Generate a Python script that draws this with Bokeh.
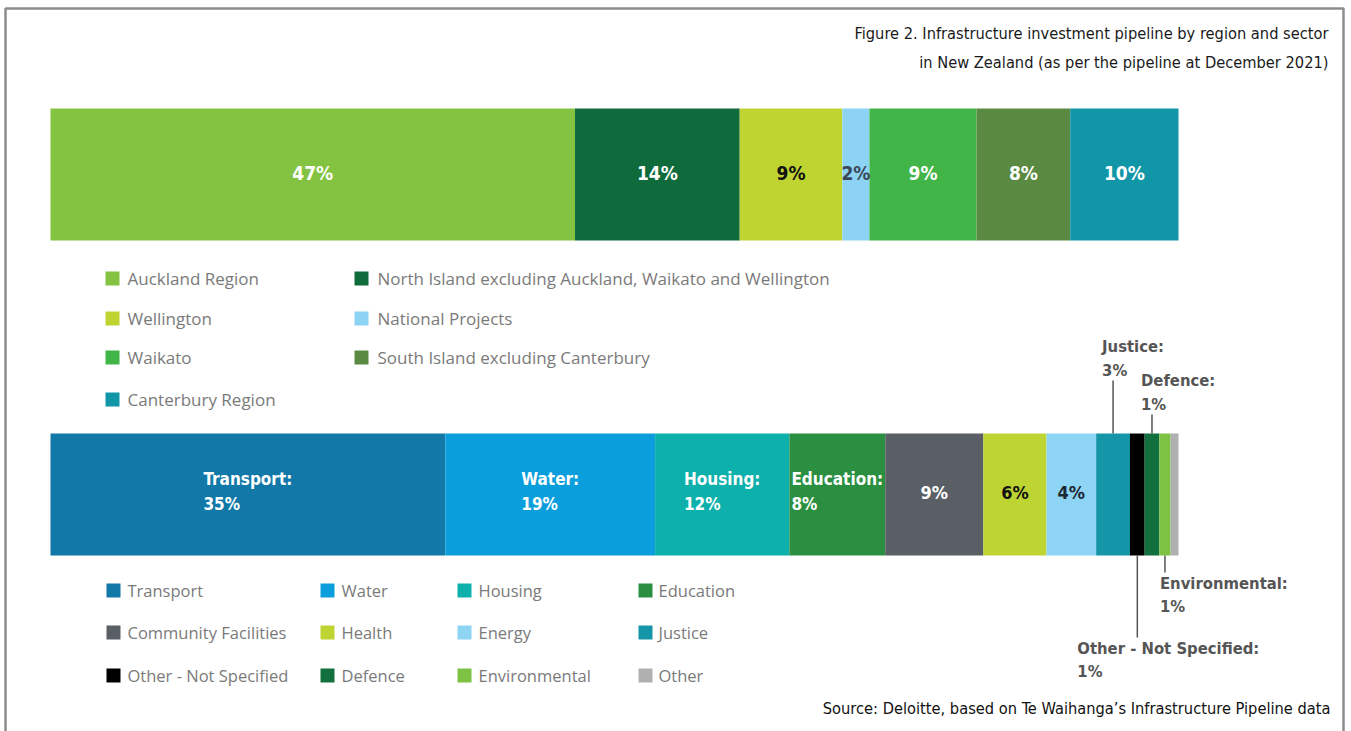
from bokeh.plotting import figure
from bokeh.models import Range1d, ColumnDataSource
from bokeh.core.properties import value
from bokeh.embed import file_html
from bokeh.resources import INLINE
import numpy as np

# ---------------- data ----------------
title_lines = ["Figure 2. Infrastructure investment pipeline by region and sector",
               "in New Zealand (as per the pipeline at December 2021)"]
source_text = "Source: Deloitte, based on Te Waihanga\u2019s Infrastructure Pipeline data"

regions = ["Auckland Region",
           "North Island excluding Auckland, Waikato and Wellington",
           "Wellington", "National Projects", "Waikato",
           "South Island excluding Canterbury", "Canterbury Region"]
region_share = [46.5, 14.6, 9.1, 2.4, 9.5, 8.3, 9.6]      # bar widths
region_pct = [47, 14, 9, 2, 9, 8, 10]                      # printed labels
region_colors = ["#84c341", "#0f6b3c", "#bfd431", "#8dd3f4",
                 "#42b549", "#5a8a42", "#1196a8"]
region_label_colors = ["#ffffff", "#ffffff", "#111111", "#3b4858",
                       "#ffffff", "#ffffff", "#ffffff"]

sectors = ["Transport", "Water", "Housing", "Education", "Community Facilities",
           "Health", "Energy", "Justice", "Other - Not Specified", "Defence",
           "Environmental", "Other"]
sector_share = [35.0, 18.6, 11.9, 8.5, 8.7, 5.6, 4.4, 3.0, 1.3, 1.3, 1.0, 0.7]
sector_pct = [35, 19, 12, 8, 9, 6, 4, 3, 1, 1, 1, None]
sector_colors = ["#1278a8", "#0a9edc", "#0db0aa", "#2a8f40", "#5a5f66",
                 "#bdd433", "#8ed4f4", "#1496a8", "#000000", "#12703f",
                 "#7dc242", "#b0b0b0"]
# how each sector is labelled: named inside, value inside, above, below, none
sector_label_mode = ["named", "named", "named", "named", "value", "value", "value",
                     "above", "below", "above", "below", "none"]
sector_label_colors = ["#ffffff", "#ffffff", "#ffffff", "#ffffff", "#ffffff",
                       "#111111", "#1c2833", "#555555", "#555555", "#555555",
                       "#555555", "#555555"]

# ---------------- layout ----------------
W, H = 1351, 731
BAR_L, BAR_R = 50, 1178
px_per_pct = (BAR_R - BAR_L) / 100.0
COND = "DejaVu Sans Condensed"
LEG = "Open Sans"

p = figure(width=W, height=H, x_range=Range1d(0, W), y_range=Range1d(H, 0),
           x_axis_type=None, y_axis_type=None, toolbar_location=None,
           output_backend="svg", min_border=0, outline_line_color=None,
           background_fill_color="white", border_fill_color="white")
p.extra_x_ranges = {"pct": Range1d(-BAR_L / px_per_pct, (W - BAR_L) / px_per_pct)}


def txt(x, y, text, size, color, bold=False, font=COND, align="left",
        baseline="middle", range_name="default", anchor=None, x_offset=0, lh=1.3):
    kw = {}
    if anchor is not None:
        kw["anchor"] = value(anchor)
    p.text(x=[x], y=[y], text=[text], text_font=value(font),
           text_font_size=f"{size}px", text_color=color,
           text_font_style="bold" if bold else "normal",
           text_align=align, text_baseline=baseline, x_offset=x_offset,
           text_line_height=lh, x_range_name=range_name, **kw)


# frame
p.line([5, 5, 1343, 1343], [H + 5, 8, 8, H + 5], line_color="#8c8c8c", line_width=2.5)

# title
txt(1328, 33, title_lines[0], 16.3, "#1a1a1a", align="right")
txt(1328, 62, title_lines[1], 16.3, "#1a1a1a", align="right")

# ---------------- top bar (regions) ----------------
r_right = np.cumsum(region_share)
r_left = r_right - np.array(region_share)
src_r = ColumnDataSource(dict(left=r_left, right=r_right, y=[174] * len(regions),
                              color=region_colors, name=regions))
p.hbar(y="y", left="left", right="right", height=132, fill_color="color",
       line_color=None, source=src_r, x_range_name="pct")
src_rl = ColumnDataSource(dict(x=(r_left + r_right) / 2, y=[172] * len(regions),
                               text=[f"{v}%" for v in region_pct],
                               color=region_label_colors))
p.text(x="x", y="y", text="text", text_color="color", source=src_rl,
       text_font=value(COND), text_font_size="19px", text_font_style="bold",
       text_align="center", text_baseline="middle", x_range_name="pct")

# top legend: 2 columns, row-major
leg_cols_sq = [112, 361]
leg_cols_tx = [127, 377]
leg_rows = [278, 318, 357, 399]
for i, (name, c) in enumerate(zip(regions, region_colors)):
    row, col = divmod(i, 2)
    p.rect(x=[leg_cols_sq[col]], y=[leg_rows[row]], width=14, height=14,
           fill_color=c, line_color=None)
    txt(leg_cols_tx[col], leg_rows[row], name, 17, "#7a7a7a", font=LEG)

# ---------------- bottom bar (sectors) ----------------
s_right = np.cumsum(sector_share)
s_left = s_right - np.array(sector_share)
s_mid = (s_left + s_right) / 2
src_s = ColumnDataSource(dict(left=s_left, right=s_right, y=[494] * len(sectors),
                              color=sector_colors, name=sectors))
p.hbar(y="y", left="left", right="right", height=122, fill_color="color",
       line_color=None, source=src_s, x_range_name="pct")

annot_offset = {"Justice": -11, "Defence": -11, "Environmental": -5,
                "Other - Not Specified": -60}
annot_y = {"Justice": 380, "Defence": 414, "Environmental": 572,
           "Other - Not Specified": 637}
for i, name in enumerate(sectors):
    mode = sector_label_mode[i]
    col = sector_label_colors[i]
    if mode == "named":
        txt(s_mid[i], 491, f"{name}:\n{sector_pct[i]}%", 17, col, bold=True,
            align="left", anchor="center", range_name="pct", lh=1.25)
    elif mode == "value":
        txt(s_mid[i], 492, f"{sector_pct[i]}%", 18, col, bold=True,
            align="center", range_name="pct")
    elif mode == "above":
        ya = annot_y[name]
        p.segment(x0=[s_mid[i]], x1=[s_mid[i]], y0=[ya], y1=[433],
                  line_color="#555555", line_width=1.5, x_range_name="pct")
        txt(s_mid[i], ya - 1, f"{name}:\n{sector_pct[i]}%", 16.5, col, bold=True,
            align="left", anchor="bottom_left", x_offset=annot_offset[name],
            range_name="pct", lh=1.25)
    elif mode == "below":
        yb = annot_y[name]
        p.segment(x0=[s_mid[i]], x1=[s_mid[i]], y0=[555], y1=[yb],
                  line_color="#555555", line_width=1.5, x_range_name="pct")
        txt(s_mid[i], yb + 1, f"{name}:\n{sector_pct[i]}%", 16.5, col, bold=True,
            align="left", anchor="top_left", x_offset=annot_offset[name],
            range_name="pct", lh=1.25)

# bottom legend: 4 columns, row-major
leg2_cols_sq = [113, 327, 464, 645]
leg2_cols_tx = [127, 341, 478, 658]
leg2_rows = [590, 632, 675]
for i, (name, c) in enumerate(zip(sectors, sector_colors)):
    row, col = divmod(i, 4)
    p.rect(x=[leg2_cols_sq[col]], y=[leg2_rows[row]], width=14, height=14,
           fill_color=c, line_color=None)
    txt(leg2_cols_tx[col], leg2_rows[row], name, 16.5, "#7a7a7a", font=LEG)

# source
txt(1330, 708, source_text, 16.3, "#111111", align="right")

open("out.html", "w").write(file_html(p, INLINE))
